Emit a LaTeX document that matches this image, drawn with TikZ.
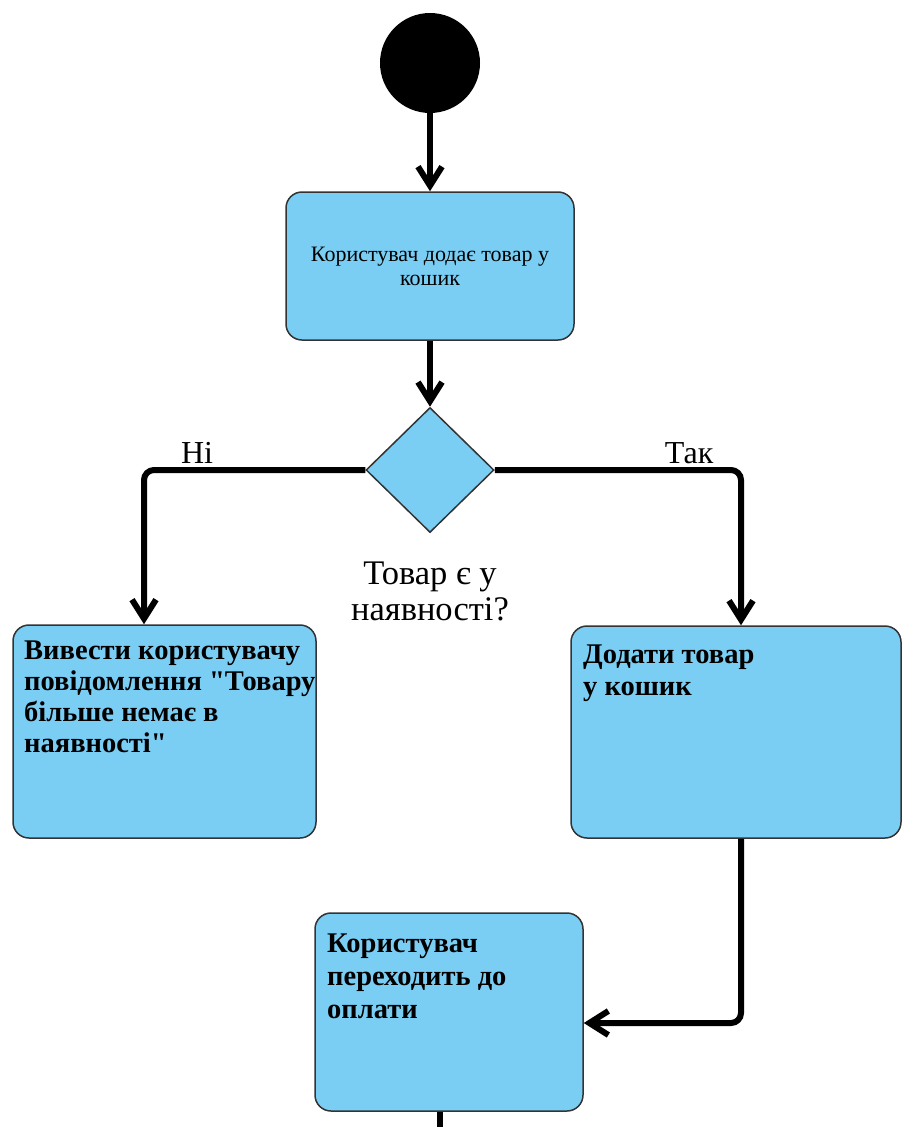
\documentclass[tikz,border=0pt]{standalone}
\usepackage{fontspec}
\setmainfont{Liberation Serif}[Ligatures=TeXOff]
\usetikzlibrary{arrows.meta,shapes.geometric}
\definecolor{boxfill}{RGB}{122,206,244}
\definecolor{boxline}{RGB}{51,51,51}
\begin{document}
\begin{tikzpicture}[x=1pt,y=-1pt,
  box/.style={draw=boxline, line width=1.5pt, fill=boxfill, rounded corners=16pt, inner sep=0pt},
  flow/.style={line width=6pt, -{Straight Barb[length=19pt,width=24pt]}, rounded corners=10pt},
  plainline/.style={line width=6pt},
  lbl/.style={font=\fontsize{32}{36}\selectfont, inner sep=0pt},
  btxt/.style={font=\fontsize{28.5}{31}\selectfont\bfseries, align=left, inner sep=0pt, anchor=base west},
]
\useasboundingbox (0,0) rectangle (902,1127);

\node[circle, fill=black, minimum size=100pt, inner sep=0pt] (start) at (430,63) {};
\node[box, minimum width=288pt, minimum height=148pt, align=center,
      font=\fontsize{22}{24}\selectfont] (b1) at (430,266) {Користувач додає товар у\\кошик};
\node[diamond, draw=boxline, line width=1.5pt, fill=boxfill, minimum width=128pt,
      minimum height=125pt, inner sep=0pt] (d) at (430,470) {};
\node[lbl, align=center, font=\fontsize{34.5}{36}\selectfont] (q) at (430,591) {Товар є у\\наявності?};

\node[box, minimum width=303pt, minimum height=213pt] (lb) at (164.5,731.5) {};
\node[btxt] (lbt) at (24,752) {Вивести користувачу\\повідомлення "Товару\\більше немає в\\наявності"};

\node[box, minimum width=330pt, minimum height=212pt] (rb) at (736,732) {};
\node[btxt, font=\fontsize{28.5}{32}\selectfont\bfseries] (rbt) at (583,695) {Додати товар\\у кошик};

\node[box, minimum width=268pt, minimum height=198pt] (bb) at (449,1012) {};
\node[btxt, font=\fontsize{28.5}{33}\selectfont\bfseries] (bbt) at (327,1018) {Користувач\\переходить до\\оплати};

\node[lbl, anchor=base] (no) at (197,463) {Ні};
\node[lbl, anchor=base] (yes) at (689,463) {Так};

\coordinate (end) at (440,1132);

\draw[flow] (start) -- (b1);
\draw[flow] (b1) -- (d);
\draw[flow] (d.west) -| ([xshift=-20.5pt]lb.north);
\draw[flow] (d.east) -| ([xshift=5pt]rb.north);
\draw[flow] ([xshift=5pt]rb.south) |- ([yshift=-11pt]bb.east);
\draw[plainline] ([xshift=-9pt]bb.south) -- (end);
\end{tikzpicture}
\end{document}
